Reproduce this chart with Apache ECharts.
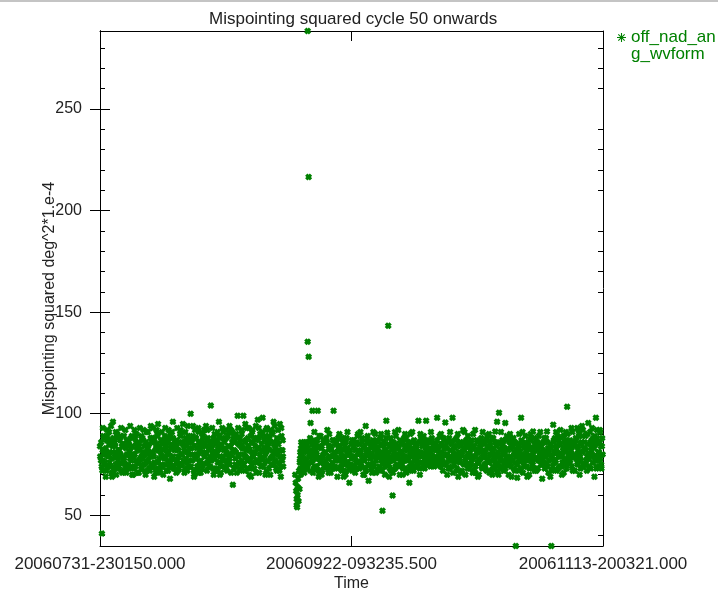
<!DOCTYPE html>
<html>
<head>
<meta charset="utf-8">
<title>Mispointing squared cycle 50 onwards</title>
<script src="https://cdn.jsdelivr.net/npm/echarts@6/dist/echarts.min.js"></script>
<style>
  html, body { margin: 0; padding: 0; background: #fff; }
  #chart { width: 718px; height: 592px; }
</style>
</head>
<body>
<div id="chart"></div>
<script>
// Time axis: days elapsed since 2006-07-31 23:01:50 (end 2006-11-13 20:03:21)
const tickDays = [0, 52.43802, 104.87605];
const tickLabels = ['20060731-230150.000', '20060922-093235.500', '20061113-200321.000'];

// Mispointing range and ticks (deg^2 * 1e-4)
const yMin = 34.9;
const yMax = 288.4;
const yMajorTicks = [50, 100, 150, 200, 250];
const yMinorTicks = [40, 60, 70, 80, 90, 110, 120, 130, 140, 160, 170, 180, 190, 210, 220, 230, 240, 260, 270, 280];

const seriesName = 'off_nad_ang_wvform';

// [day since start, mispointing squared] - first pass of the cycle
const mispointingA = [
  [0.0,84],[0.2,77],[0.4,41],[0.5,72],[0.7,89],[0.8,80],[0.9,75],
  [1.1,82],[1.2,69],[1.4,87],[1.6,74],[1.7,79],[1.9,91],
  [2.0,76],[2.2,85],[2.4,71],[2.6,81],[2.7,96],[2.8,88],[2.9,73],
  [3.1,79],[3.2,84],[3.4,70],[3.6,90],[3.7,77],[3.9,82],
  [4.0,74],[4.2,87],[4.3,80],[4.5,72],[4.7,85],[4.9,78],
  [5.0,89],[5.2,75],[5.4,83],[5.5,71],[5.7,80],[5.9,86],
  [6.1,73],[6.2,81],[6.4,88],[6.6,77],[6.8,84],[6.9,70],
  [7.0,79],[7.2,92],[7.4,74],[7.5,86],[7.7,82],[7.9,76],
  [8.1,71],[8.2,84],[8.4,78],[8.6,89],[8.7,73],[8.9,81],
  [9.0,87],[9.2,75],[9.4,80],[9.5,70],[9.7,91],[9.9,83],
  [10.1,77],[10.2,85],[10.4,72],[10.6,94],[10.7,81],[10.9,88],
  [11.1,74],[11.2,79],[11.4,86],[11.6,71],[11.7,83],[11.9,90],
  [12.0,76],[12.1,95],[12.3,82],[12.5,73],[12.7,87],[12.8,79],
  [13.0,85],[13.2,70],[13.4,78],[13.5,89],[13.7,75],[13.9,83],
  [14.1,80],[14.2,72],[14.4,88],[14.6,68],[14.7,76],[14.9,85],
  [15.0,91],[15.2,96],[15.3,79],[15.5,74],[15.7,84],[15.9,71],
  [16.0,87],[16.2,77],[16.4,82],[16.5,73],[16.7,90],[16.9,80],
  [17.1,75],[17.3,95],[17.4,86],[17.6,71],[17.7,81],[17.9,78],
  [18.0,84],[18.2,72],[18.4,89],[18.5,77],[18.7,83],[18.9,100],
  [19.0,74],[19.2,86],[19.4,94],[19.5,80],[19.7,70],[19.9,88],
  [20.1,78],[20.2,83],[20.4,73],[20.6,91],[20.7,76],[20.9,85],
  [21.0,71],[21.2,81],[21.4,87],[21.5,75],[21.7,92],[21.9,79],
  [22.0,84],[22.1,94],[22.3,72],[22.5,88],[22.7,77],[22.8,82],
  [23.0,74],[23.1,104],[23.3,86],[23.5,80],[23.7,70],[23.9,90],
  [24.0,78],[24.2,85],[24.4,73],[24.6,82],[24.8,96],[24.9,76],
  [25.1,88],[25.2,71],[25.4,83],[25.6,79],[25.7,91],[25.9,74],
  [26.0,86],[26.2,77],[26.4,81],[26.5,72],[26.7,89],[26.9,84],
  [27.1,75],[27.3,92],[27.4,80],[27.7,65],[27.8,87],[27.9,73],
  [28.0,82],[28.2,78],[28.4,90],[28.5,71],[28.7,99],[28.9,85],
  [29.0,76],[29.2,88],[29.3,86],[29.5,74],[29.7,83],[29.9,99],
  [30.0,80],[30.2,72],[30.4,87],[30.6,93],[30.7,77],[30.9,84],
  [31.1,70],[31.2,82],[31.4,89],[31.6,75],[31.7,91],[31.9,79],
  [32.0,86],[32.2,73],[32.4,81],[32.6,88],[32.7,76],[32.9,97],
  [33.0,83],[33.2,71],[33.4,90],[33.5,78],[33.7,85],[33.9,98],
  [34.1,74],[34.2,87],[34.4,80],[34.6,92],[34.7,72],[34.9,84],
  [35.0,77],[35.2,89],[35.4,82],[35.5,70],[35.7,86],[35.9,79],
  [36.0,91],[36.2,96],[36.3,75],[36.5,83],[36.7,73],[36.9,88],
  [37.0,80],[37.2,85],[37.4,72],[37.5,95],[37.7,69],[37.9,82],
  [38.0,77],[38.1,87],[38.2,74],
  [40.7,70],[40.8,66],[40.9,62],[41.0,58],[41.0,55],[41.1,54],[41.2,60],[41.2,64],
  [41.3,68],[41.4,57],[41.5,72],[41.6,63],
  [41.7,78],[41.8,73],[41.9,83],
  [42.1,80],[42.3,75],[42.5,86],[42.6,71],[42.8,82],[42.9,77],
  [43.0,84],[43.3,288.4],[43.5,216.5],[43.3,135.5],[43.5,128],[43.3,106],[43.2,73],[43.6,79],[43.9,95.5],[43.8,88],
  [44.0,76],[44.3,101.5],[44.2,82],[44.4,71],[44.6,87],[44.8,78],[44.9,74],
  [45.0,85],[45.2,80],[45.4,101.5],[45.5,72],[45.7,89],[45.9,76],
  [46.1,83],[46.2,70],[46.4,79],[46.6,86],[46.7,74],[46.9,81],
  [47.0,77],[47.2,88],[47.4,92],[47.5,73],[47.7,84],[47.9,79],
  [48.1,71],[48.2,82],[48.4,76],[48.6,87],[48.7,101.5],[48.9,80],
  [49.0,74],[49.2,85],[49.4,78],[49.5,69],[49.7,83],[49.9,90],
  [50.1,77],[50.2,81],[50.4,72],[50.6,86],[50.7,79],[50.9,75],
  [51.0,84],[51.2,70],[51.4,88],[51.5,76],[51.7,80],[51.9,73],
  [52.0,66],[52.2,82],[52.4,78],[52.5,87],[52.7,74],[52.9,84],
  [53.0,79],[53.2,71],[53.4,85],[53.5,76],[53.7,89],[53.9,81],
  [54.1,73],[54.3,91],[54.4,80],[54.6,77],[54.7,86],[54.9,70],
  [55.0,83],[55.2,78],[55.4,94],[55.5,72],[55.7,88],[55.9,80],
  [56.0,67],[56.2,75],[56.4,84],[56.5,79],[56.7,71],[56.9,87],
  [57.1,82],[57.2,74],[57.4,90],[57.6,77],[57.7,83],[57.9,72],
  [58.0,86],[58.2,79],[58.4,73],[58.5,88],[58.7,81],[58.9,52.3],
  [59.0,76],[59.2,84],[59.4,70],[59.5,80],[59.7,96.6],[59.9,90.7],
  [60.1,143.3],[60.0,78],[60.2,85],[60.4,73],[60.6,88],[60.7,77],[60.9,82],
  [61.0,59.7],[61.1,71],[61.2,86],[61.4,79],[61.6,74],[61.7,89],[61.9,80],
  [62.0,75],[62.2,92],[62.3,83],[62.5,70],[62.7,78],[62.9,85],
  [63.0,81],[63.2,73],[63.4,88],[63.5,77],[63.7,84],[63.9,71],
  [64.1,79],[64.2,86],[64.5,66],[64.6,74],[64.7,90],[64.9,82],
  [65.0,76],[65.2,83],[65.4,72],[65.5,87],[65.7,80],[65.9,78],
  [66.0,85],[66.2,74],[66.4,96.6],[66.5,81],[66.7,70],[66.9,88],
  [67.0,79],[67.2,84],[67.4,76],[67.5,89],[67.7,73],[67.9,82],
  [68.0,96.6],[68.1,80],[68.3,75],[68.4,86],[68.6,78],[68.8,83],[68.9,74],
  [69.1,81],[69.2,88],[69.4,76],[69.6,84],[69.7,74],[69.9,79],
  [70.0,85],[70.3,98],[70.2,77],[70.4,82],[70.6,75],[70.8,89],[70.9,80],
  [71.0,74],[71.2,84],[71.4,78],[71.5,72],[71.7,87],[71.9,80],
  [72.0,95.7],[72.1,76],[72.3,83],[72.4,70],[72.6,79],[72.8,88],[72.9,73],
  [73.1,82],[73.2,77],[73.5,98],[73.4,85],[73.6,71],[73.8,80],[73.9,75],
  [74.0,87],[74.2,79],[74.4,73],[74.5,84],[74.7,69],[74.9,81],
  [75.0,76],[75.2,86],[75.4,80],[75.5,72],[75.7,92],[75.9,83],
  [76.1,78],[76.2,70],[76.4,85],[76.6,75],[76.7,89],[76.9,80],
  [77.0,73],[77.2,82],[77.4,77],[77.5,87],[77.7,71],[77.9,84],
  [78.0,79],[78.2,92],[78.3,74],[78.5,81],[78.7,86],[78.9,76],
  [79.0,70],[79.2,83],[79.4,78],[79.5,88],[79.7,73],[79.9,80],
  [80.1,85],[80.2,75],[80.4,81],[80.6,72],[80.7,89],[80.9,78],
  [81.0,83],[81.2,71],[81.4,86],[81.5,77],[81.7,80],[81.9,74],
  [82.0,88],[82.2,79],[82.4,91.3],[82.5,73],[82.8,96],[82.7,84],[82.9,76],
  [83.0,81],[83.2,100.5],[83.1,70],[83.4,85],[83.5,78],[83.7,74],[83.9,87],
  [84.0,80],[84.2,72],[84.4,83],[84.5,95.5],[84.6,77],[84.8,89],[84.9,75],
  [85.1,82],[85.2,70],[85.4,86],[85.6,79],[85.7,74],[85.9,84],
  [86.0,77],[86.2,88],[86.4,81],[86.5,72],[86.7,34.9],[86.7,85],[86.9,79],
  [87.0,68.5],[87.1,75],[87.3,83],[87.4,90],[87.6,78],[87.8,98],[87.7,73],[87.9,86],
  [88.0,80],[88.2,71],[88.4,84],[88.5,77],[88.7,89],[88.9,82],
  [89.0,74],[89.2,86],[89.4,79],[89.5,70],[89.7,83],[89.9,88],
  [90.1,76],[90.3,91.3],[90.2,81],[90.4,73],[90.6,85],[90.7,78],[90.9,87],
  [91.0,72],[91.2,82],[91.4,77],[91.5,89],[91.7,80],[91.9,75],
  [92.0,84],[92.2,68],[92.3,79],[92.5,86],[92.7,73],[92.8,81],
  [93.0,88],[93.2,91.3],[93.1,76],[93.4,83],[93.5,71],[93.7,80],[93.9,69],
  [94.0,85],[94.1,34.9],[94.2,78],[94.5,94.6],[94.4,74],[94.6,87],[94.7,81],[94.9,76],
  [95.0,83],[95.2,72],[95.4,89],[95.5,79],[95.7,85],[95.9,74],
  [96.1,80],[96.2,88],[96.4,76],[96.6,83],[96.7,71],[96.9,86],
  [97.0,78],[97.2,84],[97.4,103.4],[97.3,73],[97.5,90],[97.7,80],[97.9,76],
  [98.0,87],[98.2,82],[98.4,74],[98.5,91],[98.7,79],[98.9,85],
  [99.0,72],[99.2,88],[99.5,93],[99.4,80],[99.6,76],[99.7,84],[99.9,90],
  [100.1,78],[100.2,73],[100.4,86],[100.6,81],[100.7,92],[100.9,75],
  [101.0,83],[101.2,89],[101.4,77],[101.5,72],[101.8,95.5],[101.7,85],[101.9,80],
  [102.0,74],[102.2,91],[102.4,82],[102.5,87],[102.7,76],[102.9,84],
  [103.0,79],[103.2,89],[103.4,98],[103.5,73],[103.7,86],[103.9,81],
  [104.0,77],[104.2,92],[104.4,84],[104.5,75],[104.7,88],[104.8,80]
];

// [day since start, mispointing squared] - second pass of the cycle
const mispointingB = [
  [0.05,79],[0.25,86],[0.35,74],[0.55,82],[0.65,77],[0.85,88],
  [1.05,76],[1.25,83],[1.35,72],[1.55,89],[1.65,80],[1.85,85],
  [2.05,81],[2.25,74],[2.35,87],[2.55,78],[2.65,84],[2.85,71],
  [3.05,86],[3.25,75],[3.35,81],[3.55,73],[3.65,88],[3.85,79],
  [4.05,82],[4.25,89],[4.35,76],[4.55,84],[4.65,71],[4.85,79],
  [5.05,77],[5.25,84],[5.35,73],[5.55,87],[5.65,80],[5.85,75],
  [6.05,85],[6.25,78],[6.35,83],[6.55,74],[6.65,89],[6.85,80],
  [7.05,73],[7.25,80],[7.35,88],[7.55,77],[7.65,84],[7.85,71],
  [8.05,86],[8.25,76],[8.35,82],[8.55,74],[8.65,79],[8.85,88],
  [9.05,78],[9.25,84],[9.35,72],[9.55,86],[9.65,76],[9.85,81],
  [10.05,83],[10.25,73],[10.35,79],[10.55,88],[10.65,75],[10.85,86],
  [11.05,80],[11.25,87],[11.35,76],[11.55,82],[11.65,73],[11.85,85],
  [12.05,89],[12.25,78],[12.35,84],[12.55,71],[12.65,81],[12.85,75],
  [13.05,74],[13.25,82],[13.35,87],[13.55,79],[13.65,84],[13.85,72],
  [14.05,86],[14.25,77],[14.35,81],[14.55,74],[14.65,90],[14.85,83],
  [15.05,78],[15.25,88],[15.35,73],[15.55,82],[15.65,86],[15.85,76],
  [16.05,84],[16.25,72],[16.35,79],[16.55,86],[16.65,75],[16.85,89],
  [17.05,80],[17.25,85],[17.35,77],[17.55,83],[17.65,73],[17.85,88],
  [18.05,76],[18.25,81],[18.35,86],[18.55,74],[18.65,80],[18.85,87],
  [19.05,83],[19.25,77],[19.35,89],[19.55,72],[19.65,84],[19.85,79],
  [20.05,88],[20.25,74],[20.35,80],[20.55,86],[20.65,71],[20.85,82],
  [21.05,77],[21.25,84],[21.35,73],[21.55,89],[21.65,80],[21.85,85],
  [22.05,81],[22.25,87],[22.35,76],[22.55,84],[22.65,74],[22.85,79],
  [23.05,85],[23.25,77],[23.35,83],[23.55,73],[23.65,88],[23.85,81],
  [24.05,72],[24.25,80],[24.35,87],[24.55,76],[24.65,84],[24.85,89],
  [25.05,79],[25.25,85],[25.35,74],[25.55,88],[25.65,77],[25.85,82],
  [26.05,83],[26.25,73],[26.35,88],[26.55,80],[26.65,76],[26.85,91],
  [27.05,78],[27.25,84],[27.35,71],[27.55,86],[27.65,82],[27.85,89],
  [28.05,86],[28.25,75],[28.35,81],[28.55,74],[28.65,88],[28.85,79],
  [29.05,80],[29.25,72],[29.35,84],[29.55,90],[29.65,77],[29.85,83],
  [30.05,75],[30.25,86],[30.35,79],[30.55,82],[30.65,73],[30.85,88],
  [31.05,84],[31.25,78],[31.35,73],[31.55,86],[31.65,81],[31.85,76],
  [32.05,79],[32.25,88],[32.35,84],[32.55,71],[32.65,77],[32.85,83],
  [33.05,87],[33.25,76],[33.35,80],[33.55,74],[33.65,89],[33.85,82],
  [34.05,78],[34.25,83],[34.35,76],[34.55,89],[34.65,81],[34.85,86],
  [35.05,84],[35.25,73],[35.35,88],[35.55,78],[35.65,75],[35.85,90],
  [36.05,79],[36.25,85],[36.35,81],[36.55,77],[36.65,86],[36.85,72],
  [37.05,87],[37.25,76],[37.35,82],[37.55,79],[37.65,74],[37.85,89],
  [38.05,82],[38.15,79],
  [41.65,76],[41.75,81],[41.85,70],[41.95,86],
  [42.05,79],[42.25,84],[42.35,73],[42.55,81],[42.65,76],[42.85,86],
  [43.05,78],[43.25,83],[43.35,75],[43.55,86],[43.65,81],[43.85,72],
  [44.05,80],[44.25,85],[44.35,77],[44.55,73],[44.65,83],[44.85,79],
  [45.05,82],[45.25,74],[45.35,87],[45.55,78],[45.65,84],[45.85,71],
  [46.05,77],[46.25,84],[46.35,72],[46.55,80],[46.65,87],[46.85,75],
  [47.05,81],[47.25,75],[47.35,86],[47.55,78],[47.65,71],[47.85,83],
  [48.05,74],[48.25,84],[48.35,79],[48.55,87],[48.65,73],[48.85,81],
  [49.05,80],[49.25,77],[49.35,86],[49.55,73],[49.65,88],[49.85,82],
  [50.05,84],[50.25,74],[50.35,79],[50.55,88],[50.65,76],[50.85,82],
  [51.05,78],[51.25,86],[51.35,72],[51.55,83],[51.65,80],[51.85,75],
  [52.05,81],[52.25,75],[52.35,85],[52.55,72],[52.65,79],[52.85,87],
  [53.05,74],[53.25,82],[53.35,77],[53.55,86],[53.65,73],[53.85,80],
  [54.05,85],[54.25,76],[54.35,82],[54.55,74],[54.65,88],[54.85,79],
  [55.05,77],[55.25,84],[55.35,73],[55.55,81],[55.65,86],[55.85,75],
  [56.05,82],[56.25,78],[56.35,86],[56.55,73],[56.65,80],[56.85,84],
  [57.05,76],[57.25,85],[57.35,79],[57.55,71],[57.65,87],[57.85,81],
  [58.05,83],[58.25,74],[58.35,80],[58.55,85],[58.65,77],[58.85,72],
  [59.05,79],[59.25,86],[59.35,74],[59.55,82],[59.65,88],[59.85,77],
  [60.05,81],[60.25,75],[60.35,84],[60.55,79],[60.65,72],[60.85,86],
  [61.05,77],[61.25,83],[61.35,81],[61.55,73],[61.65,85],[61.85,78],
  [62.05,84],[62.25,79],[62.35,74],[62.55,87],[62.65,81],[62.85,76],
  [63.05,75],[63.25,86],[63.35,79],[63.55,82],[63.65,73],[63.85,88],
  [64.05,82],[64.25,77],[64.35,84],[64.55,72],[64.65,80],[64.85,86],
  [65.05,79],[65.25,86],[65.35,74],[65.55,82],[65.65,77],[65.85,84],
  [66.05,83],[66.25,76],[66.35,79],[66.55,86],[66.65,73],[66.85,81],
  [67.05,76],[67.25,85],[67.35,80],[67.55,74],[67.65,87],[67.85,78],
  [68.05,84],[68.25,77],[68.35,82],[68.55,79],[68.65,87],[68.85,76],
  [69.05,79],[69.25,86],[69.35,75],[69.55,83],[69.65,77],[69.85,85],
  [70.05,82],[70.25,78],[70.35,87],[70.55,76],[70.65,84],[70.85,79],
  [71.05,77],[71.25,85],[71.35,81],[71.55,75],[71.65,88],[71.85,83],
  [72.05,84],[72.25,75],[72.35,80],[72.55,86],[72.65,73],[72.85,78],
  [73.05,79],[73.25,86],[73.35,74],[73.55,82],[73.65,77],[73.85,84],
  [74.05,83],[74.25,77],[74.35,88],[74.55,72],[74.65,80],[74.85,85],
  [75.05,78],[75.25,84],[75.35,71],[75.55,81],[75.65,86],[75.85,75],
  [76.05,82],[76.25,76],[76.35,87],[76.55,79],[76.65,73],[76.85,84],
  [77.05,80],[77.25,86],[77.35,75],[77.55,83],[77.65,78],[77.85,72],
  [78.05,84],[78.25,71],[78.35,79],[78.55,87],[78.65,76],[78.85,82],
  [79.05,77],[79.25,85],[79.35,81],[79.55,74],[79.65,86],[79.85,79],
  [80.05,82],[80.25,79],[80.35,73],[80.55,87],[80.65,77],[80.85,84],
  [81.05,76],[81.25,84],[81.35,80],[81.55,72],[81.65,88],[81.85,81],
  [82.05,83],[82.25,77],[82.35,86],[82.55,75],[82.65,80],[82.85,71],
  [83.05,79],[83.25,86],[83.35,73],[83.55,82],[83.65,77],[83.85,84],
  [84.05,85],[84.25,76],[84.35,81],[84.55,73],[84.65,87],[84.85,79],
  [85.05,78],[85.25,88],[85.35,75],[85.55,83],[85.65,77],[85.85,86],
  [86.05,84],[86.25,73],[86.35,80],[86.55,86],[86.65,76],[86.85,82],
  [87.05,79],[87.25,85],[87.35,72],[87.55,81],[87.65,77],[87.85,87],
  [88.05,86],[88.25,76],[88.35,83],[88.55,74],[88.65,79],[88.85,85],
  [89.05,81],[89.25,77],[89.35,84],[89.55,73],[89.65,87],[89.85,78],
  [90.05,83],[90.25,75],[90.35,80],[90.55,88],[90.65,72],[90.85,84],
  [91.05,78],[91.25,86],[91.35,73],[91.55,84],[91.65,79],[91.85,81],
  [92.05,85],[92.25,77],[92.35,82],[92.55,75],[92.65,88],[92.85,79],
  [93.05,80],[93.25,86],[93.35,74],[93.55,82],[93.65,77],[93.85,84],
  [94.05,83],[94.25,72],[94.35,79],[94.55,86],[94.65,76],[94.85,88],
  [95.05,77],[95.25,84],[95.35,81],[95.55,73],[95.65,87],[95.85,80],
  [96.05,85],[96.25,79],[96.35,74],[96.55,82],[96.65,89],[96.85,77],
  [97.05,81],[97.25,87],[97.35,75],[97.55,83],[97.65,78],[97.85,85],
  [98.05,77],[98.25,83],[98.35,80],[98.55,72],[98.65,86],[98.85,79],
  [99.05,84],[99.25,78],[99.35,87],[99.55,75],[99.65,82],[99.85,89],
  [100.05,80],[100.25,85],[100.35,77],[100.55,89],[100.65,74],[100.85,83],
  [101.05,86],[101.25,75],[101.35,82],[101.55,79],[101.65,90],[101.85,78],
  [102.05,79],[102.25,86],[102.35,73],[102.55,84],[102.65,80],[102.85,88],
  [103.05,83],[103.25,77],[103.35,85],[103.55,74],[103.65,88],[103.85,79],
  [104.05,81],[104.25,86],[104.35,78],[104.55,73],[104.65,84]
];

// [day since start, mispointing squared] - scattered high/low readings around the main band
const mispointingC = [
  [0.6,93],[1.5,92],[2.3,94],[3.3,91],[4.4,93],[5.3,92],[6.3,94],[7.6,90],[8.3,93],[9.1,92],
  [10.0,91],[11.0,93],[11.8,92],[12.9,91],[13.6,93],[14.3,92],[16.1,93],[16.8,92],[17.8,91],[18.3,94],
  [19.8,92],[20.5,93],[21.3,90],[22.4,92],[23.4,93],[24.5,91],[25.5,93],[26.3,92],[27.0,94],[27.6,91],
  [28.8,93],[29.6,92],[30.3,95],[31.0,93],[31.8,92],[32.5,94],[33.1,93],[33.8,91],[34.8,93],[35.6,92],
  [36.4,94],[37.1,92],[37.8,93],
  [2.5,69],[6.7,70],[11.3,69],[19.6,69],[25.0,70],[31.5,69],[34.5,70],
  [44.7,91],[46.0,89],[47.8,90],[50.0,89],[51.6,91],[53.8,90],[55.8,89],[57.0,91],[58.6,90],[61.5,91],
  [63.6,90],[65.1,91],[66.8,90],[69.0,91],[71.1,90],[73.0,91],[74.6,90],[76.0,91],[77.8,90],[79.8,91],
  [81.1,90],[83.6,91],[85.5,90],[88.1,91],[89.8,90],[91.8,91],[95.1,91],[96.0,92],[97.1,91],[98.3,93],
  [99.8,92],[100.5,94],[102.6,93],[103.6,92],[104.3,91],
  [45.6,69],[50.8,69],[55.1,70],[60.3,69],[63.1,70],[78.8,69],[81.8,70],[85.8,69],[89.1,69],[96.3,70],
  [100.0,70],[103.1,69]
];

const GREEN = '#008000';
const INK = '#222';
const FONT = 'Liberation Sans';

// Asterisk (plus + cross) used for the legend key
function asteriskPath(w) {
  const d = w * 0.7071;
  return 'path://' +
    `M-1,${-w}L1,${-w}L1,${w}L-1,${w}Z` +
    `M${-w},-1L${w},-1L${w},1L${-w},1Z` +
    `M${-0.7071 - d},${-0.7071 + d}L${-0.7071 + d},${-0.7071 - d}L${0.7071 + d},${0.7071 - d}L${0.7071 - d},${0.7071 + d}Z` +
    `M${0.7071 - d},${-0.7071 - d}L${0.7071 + d},${-0.7071 + d}L${-0.7071 + d},${0.7071 + d}L${-0.7071 - d},${0.7071 - d}Z`;
}
// Bold cross used for the plotted points
const pointSymbol = 'path://M-1,-0.35L-0.35,-1L1,0.35L0.35,1ZM0.35,-1L1,-0.35L-0.35,1L-1,0.35Z';

const axisLine = { show: true, lineStyle: { color: '#000', width: 1 } };

function tickAxis(position, values, length, extra) {
  return Object.assign({
    type: 'value', position: position, min: yMin, max: yMax,
    axisLine: axisLine,
    axisTick: { show: true, inside: true, length: length, customValues: values, lineStyle: { color: '#000' } },
    axisLabel: { show: false },
    splitLine: { show: false }
  }, extra || {});
}

const chart = echarts.init(document.getElementById('chart'), null, { renderer: 'canvas' });

chart.setOption({
  backgroundColor: '#fff',
  animation: false,
  textStyle: { fontFamily: FONT },
  title: {
    text: 'Mispointing squared cycle 50 onwards',
    left: 209, top: 11, padding: 0,
    textStyle: { fontFamily: FONT, fontSize: 17, fontWeight: 'normal', color: INK }
  },
  legend: {
    left: 617, top: 12, padding: 0,
    itemWidth: 9, itemHeight: 9,
    icon: asteriskPath(0.12),
    formatter: name => '\n' + name.slice(0, 10) + '\n' + name.slice(10),
    textStyle: { fontFamily: FONT, fontSize: 17, color: GREEN, lineHeight: 17 },
    data: [seriesName]
  },
  grid: { left: 100, top: 31, width: 503, height: 515, containLabel: false, outerBoundsMode: 'none' },
  xAxis: [
    {
      type: 'value', position: 'bottom', min: tickDays[0], max: tickDays[2],
      axisLine: axisLine,
      axisTick: { show: true, inside: true, length: 10, customValues: tickDays, lineStyle: { color: '#000' } },
      axisLabel: {
        show: true, customValues: tickDays, margin: 10,
        fontFamily: FONT, fontSize: 17, color: INK,
        formatter: v => tickLabels[tickDays.findIndex(t => Math.abs(t - v) < 1e-6)]
      },
      splitLine: { show: false },
      name: 'Time', nameLocation: 'middle', nameGap: 30, nameMoveOverlap: false,
      nameTextStyle: { fontFamily: FONT, fontSize: 16, color: INK }
    },
    {
      type: 'value', position: 'top', min: tickDays[0], max: tickDays[2],
      axisLine: axisLine,
      axisTick: { show: true, inside: true, length: 10, customValues: [tickDays[1]], lineStyle: { color: '#000' } },
      axisLabel: { show: false },
      splitLine: { show: false }
    }
  ],
  yAxis: [
    tickAxis('left', yMajorTicks, 10, {
      axisLabel: { show: true, customValues: yMajorTicks, margin: 18, fontFamily: FONT, fontSize: 16, color: INK },
      name: 'Mispointing squared deg^2*1.e-4', nameLocation: 'middle', nameGap: 42, nameMoveOverlap: false,
      nameTextStyle: { fontFamily: FONT, fontSize: 16, color: INK, padding: [0, 20, 0, 0] }
    }),
    tickAxis('right', yMajorTicks, 10),
    tickAxis('left', yMinorTicks, 5),
    tickAxis('right', yMinorTicks, 5)
  ],
  series: [
    {
      name: seriesName,
      type: 'scatter',
      xAxisIndex: 0,
      yAxisIndex: 0,
      symbol: pointSymbol,
      symbolSize: 7,
      clip: true,
      itemStyle: { color: GREEN, opacity: 1 },
      data: mispointingA.concat(mispointingB, mispointingC)
    }
  ],
  graphic: [
    { type: 'line', shape: { x1: 0, y1: 1, x2: 718, y2: 1 }, style: { stroke: '#c4c4c4', lineWidth: 2 }, silent: true }
  ]
});
</script>
</body>
</html>
